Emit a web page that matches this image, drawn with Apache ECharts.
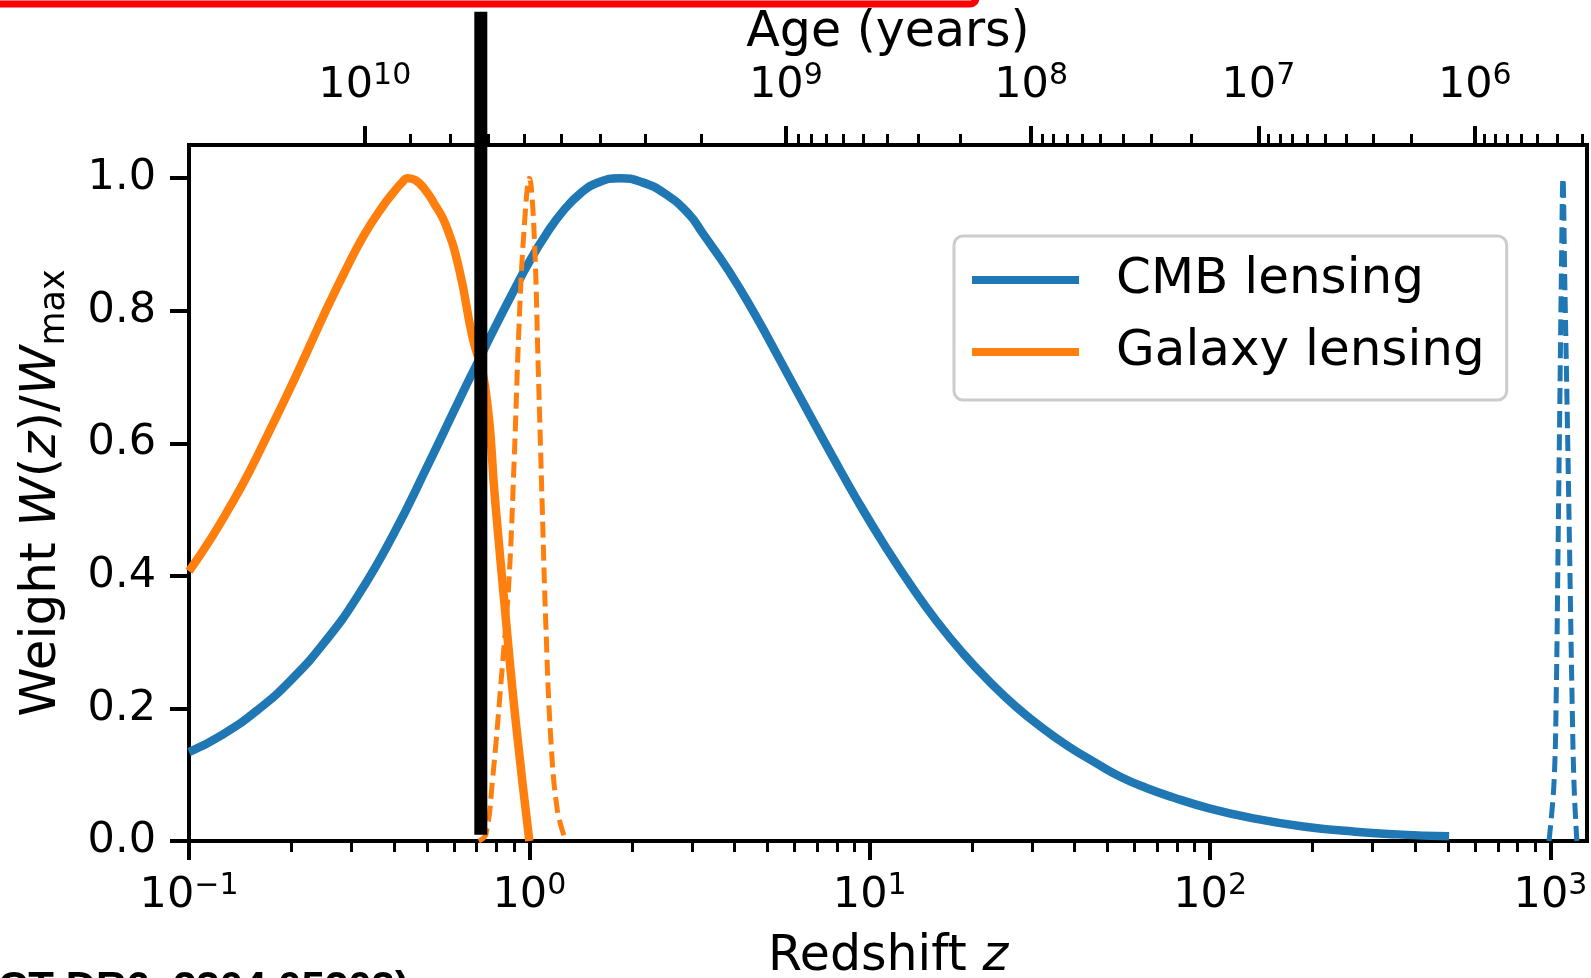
<!DOCTYPE html>
<html>
<head>
<meta charset="utf-8">
<title>Lensing kernels vs redshift</title>
<script src="https://cdn.jsdelivr.net/npm/echarts@6/dist/echarts.min.js"></script>
<style>
  html, body { margin: 0; padding: 0; background: #ffffff; }
  #chart { width: 1591px; height: 978px; }
</style>
</head>
<body>
<div id="chart"></div>
<script>
// ---- Normalised lensing kernels W(z)/W_max ----
const cmbZ = [0.1, 0.1259, 0.1585, 0.1995, 0.2512, 0.3162, 0.3981, 0.5012, 0.631, 0.7079, 0.7943, 0.8913, 1.0, 1.122, 1.259, 1.413, 1.585, 1.841, 2.138, 2.512, 2.951, 3.228, 3.855, 4.603, 5.483, 6.546, 7.816, 9.311, 11.12, 13.27, 15.81, 18.88, 22.54, 26.85, 32.06, 38.28, 45.71, 54.45, 65.01, 77.62, 100, 131.8, 187.5, 266.7, 354.8, 503.5];
const cmbW = [0.134, 0.161, 0.197, 0.243, 0.301, 0.373, 0.462, 0.565, 0.672, 0.724, 0.776, 0.826, 0.874, 0.916, 0.951, 0.977, 0.993, 1.0, 0.994, 0.976, 0.945, 0.917, 0.86, 0.794, 0.723, 0.65, 0.578, 0.509, 0.444, 0.384, 0.33, 0.282, 0.24, 0.203, 0.171, 0.143, 0.119, 0.097, 0.08, 0.066, 0.049, 0.035, 0.022, 0.014, 0.01, 0.007];

const galZ = [0.1, 0.1159, 0.1318, 0.15, 0.171, 0.1945, 0.2213, 0.2518, 0.2864, 0.3258, 0.3715, 0.3981, 0.4217, 0.4395, 0.4624, 0.4898, 0.5248, 0.5675, 0.6223, 0.6792, 0.7413, 0.7943, 0.8511, 0.912, 1.0];
const galW = [0.407, 0.456, 0.504, 0.556, 0.615, 0.674, 0.736, 0.799, 0.858, 0.913, 0.958, 0.978, 0.993, 1.0, 0.997, 0.985, 0.962, 0.93, 0.862, 0.762, 0.686, 0.51, 0.34, 0.18, 0.0];

// Source redshift distributions (dashed)
const galSrcZ = [0.71, 0.745, 0.778, 0.832, 0.871, 0.902, 0.933, 0.964, 1.0, 1.032, 1.062, 1.091, 1.117, 1.155, 1.208, 1.279];
const galSrcW = [0.0, 0.01, 0.088, 0.261, 0.393, 0.573, 0.781, 0.92, 1.0, 0.92, 0.712, 0.504, 0.331, 0.157, 0.047, 0.0];

const cmbSrcZ = [990, 1024, 1040, 1052, 1064, 1076, 1088, 1101, 1120, 1138, 1156, 1172, 1195];
const cmbSrcW = [0.0, 0.088, 0.227, 0.435, 0.642, 0.85, 1.0, 0.85, 0.642, 0.435, 0.227, 0.088, 0.0];

// Vertical divider: redshift, lower and upper weight
const dividerLine = [[0.72, 0.0094, 1.251]];

// ---- Axes ----
const zMin = 0.1, zMax = 1280;
const redshiftTicks = [0.1, 1, 10, 100, 1000];
const redshiftMinorTicks = [];
for (let k = -1; k <= 2; k++) for (let m = 2; m <= 9; m++) redshiftMinorTicks.push(+(m * Math.pow(10, k)).toPrecision(3));
const weightTicks = [0, 0.2, 0.4, 0.6, 0.8, 1.0];
const ageTicks = [1e10, 1e9, 1e8, 1e7, 1e6];
const ageTickLabels = ['10{s|10}', '10{s|9}', '10{s|8}', '10{s|7}', '10{s|6}'];

// Flat LCDM with radiation: cosmic age at redshift z (years)
const H0 = 67.7, OMEGA_M = 0.31, OMEGA_R = 9.1e-5, OMEGA_L = 1 - OMEGA_M - OMEGA_R;
const HUBBLE_TIME_YR = 977.8e9 / H0;
function ageAtZ(z) {
  const a = 1 / (1 + z);
  const n = 1000, h = a / n;
  const f = x => x / Math.sqrt(OMEGA_R + OMEGA_M * x + OMEGA_L * x * x * x * x);
  let s = f(0) + f(a);
  for (let i = 1; i < n; i++) s += (i % 2 ? 4 : 2) * f(i * h);
  return HUBBLE_TIME_YR * s * h / 3;
}
function zAtAge(age) {
  let lo = -3, hi = 5;
  for (let k = 0; k < 50; k++) {
    const mid = (lo + hi) / 2;
    if (ageAtZ(Math.pow(10, mid)) > age) lo = mid; else hi = mid;
  }
  return Math.pow(10, (lo + hi) / 2);
}
const inRange = z => z >= zMin && z <= zMax;
const ageMajorZ = ageTicks.map(zAtAge);
const ageMinorZ = [];
for (let k = 5; k <= 9; k++) for (let m = 2; m <= 9; m++) {
  const z = zAtAge(m * Math.pow(10, k));
  if (inRange(z)) ageMinorZ.push(z);
}

const FONT = "'DejaVu Sans', sans-serif";
const BLUE = '#1f77b4', ORANGE = '#ff7f0e';
const pairs = (xs, ys) => xs.map((x, i) => [x, ys[i]]);

const supStyle = { fontFamily: FONT, fontSize: 30, lineHeight: 24, verticalAlign: 'top', color: '#000' };

function logAxis(position, extra) {
  return Object.assign({
    type: 'log', logBase: 10, min: zMin, max: zMax, position: position, gridIndex: 0,
    axisLine: { show: true, onZero: false, lineStyle: { color: '#000', width: 4 } },
    splitLine: { show: false }, minorTick: { show: false }, minorSplitLine: { show: false },
    axisPointer: { show: false }, nameMoveOverlap: false
  }, extra);
}

const option = {
  animation: false,
  backgroundColor: '#ffffff',
  grid: {
    left: 189, top: 145, width: 1398, height: 696,
    show: true, borderColor: '#000', borderWidth: 4,
    containLabel: false, outerBoundsMode: 'none'
  },
  legend: {
    data: ['CMB lensing', 'Galaxy lensing'],
    orient: 'vertical', left: 954, top: 236,
    padding: [17, 22, 21, 18], itemGap: 18,
    itemWidth: 107, itemHeight: 8, icon: 'rect',
    backgroundColor: 'rgba(255,255,255,0.8)',
    borderColor: '#cccccc', borderWidth: 3, borderRadius: 9,
    selectedMode: false,
    textStyle: { fontFamily: FONT, fontSize: 50, lineHeight: 50, color: '#000', padding: [4, 0, 0, 32] }
  },
  xAxis: [
    // redshift, major ticks and labels
    logAxis('bottom', {
      axisTick: { show: true, length: 19, lineStyle: { color: '#000', width: 4 }, customValues: redshiftTicks },
      axisLabel: {
        show: true, customValues: redshiftTicks, margin: 30,
        fontFamily: FONT, fontSize: 43, lineHeight: 50, color: '#000',
        formatter: v => {
          const e = Math.round(Math.log10(v));
          return '10{s|' + (e < 0 ? '\u2212' + (-e) : String(e)) + '}';
        },
        rich: { s: supStyle }
      },
      name: 'Redshift {i|z}', nameLocation: 'middle', nameGap: 88,
      nameTextStyle: {
        fontFamily: FONT, fontSize: 49, lineHeight: 56, color: '#000',
        rich: { i: { fontFamily: FONT, fontSize: 49, lineHeight: 56, fontStyle: 'italic', color: '#000' } }
      }
    }),
    // redshift, minor ticks
    logAxis('bottom', {
      axisLine: { show: false, onZero: false },
      axisTick: { show: true, length: 11, lineStyle: { color: '#000', width: 3 }, customValues: redshiftMinorTicks },
      axisLabel: { show: false }
    }),
    // cosmic age, major ticks and labels
    logAxis('top', {
      axisTick: { show: true, length: 19, lineStyle: { color: '#000', width: 4 }, customValues: ageMajorZ },
      axisLabel: {
        show: true, customValues: ageMajorZ, margin: 34,
        fontFamily: FONT, fontSize: 43, lineHeight: 50, color: '#000',
        formatter: v => {
          let best = 0, bestD = Infinity;
          ageMajorZ.forEach((z, i) => {
            const d = Math.abs(Math.log10(z) - Math.log10(v));
            if (d < bestD) { bestD = d; best = i; }
          });
          return ageTickLabels[best];
        },
        rich: { s: supStyle }
      },
      name: 'Age (years)', nameLocation: 'middle', nameGap: 84,
      nameTextStyle: { fontFamily: FONT, fontSize: 49, lineHeight: 56, color: '#000' }
    }),
    // cosmic age, minor ticks
    logAxis('top', {
      axisLine: { show: false, onZero: false },
      axisTick: { show: true, length: 11, lineStyle: { color: '#000', width: 3 }, customValues: ageMinorZ },
      axisLabel: { show: false }
    })
  ],
  yAxis: {
    type: 'value', min: 0, max: 1.05, position: 'left',
    axisLine: { show: true, onZero: false, lineStyle: { color: '#000', width: 4 } },
    axisTick: { show: true, length: 19, lineStyle: { color: '#000', width: 4 }, customValues: weightTicks },
    axisLabel: {
      customValues: weightTicks, margin: 33,
      formatter: v => v.toFixed(1),
      fontFamily: FONT, fontSize: 43, color: '#000'
    },
    splitLine: { show: false },
    nameMoveOverlap: false,
    name: 'Weight {i|W}({i|z})/{i|W}{sub|max}',
    nameLocation: 'middle', nameRotate: 90, nameGap: 117,
    nameTextStyle: {
      fontFamily: FONT, fontSize: 50, lineHeight: 60, color: '#000',
      rich: {
        i: { fontFamily: FONT, fontSize: 50, lineHeight: 60, fontStyle: 'italic', color: '#000' },
        sub: { fontFamily: FONT, fontSize: 35, lineHeight: 30, verticalAlign: 'bottom', color: '#000' }
      }
    }
  },
  series: [
    {
      name: 'CMB lensing', type: 'line', xAxisIndex: 0, yAxisIndex: 0,
      data: pairs(cmbZ, cmbW), showSymbol: false, smooth: 0.5,
      lineStyle: { color: BLUE, width: 8.5 }, itemStyle: { color: BLUE }, z: 2
    },
    {
      name: 'Galaxy lensing', type: 'line', xAxisIndex: 0, yAxisIndex: 0,
      data: pairs(galZ, galW), showSymbol: false, smooth: 0.5,
      lineStyle: { color: ORANGE, width: 8.5 }, itemStyle: { color: ORANGE }, z: 3
    },
    {
      name: 'Galaxy source', type: 'line', xAxisIndex: 0, yAxisIndex: 0,
      data: pairs(galSrcZ, galSrcW), showSymbol: false, smooth: 0.4,
      lineStyle: { color: ORANGE, width: 5, type: [16, 7] }, itemStyle: { color: ORANGE }, z: 4
    },
    {
      name: 'CMB source', type: 'line', xAxisIndex: 0, yAxisIndex: 0,
      data: pairs(cmbSrcZ, cmbSrcW), showSymbol: false, smooth: 0.4,
      lineStyle: { color: BLUE, width: 5, type: [16, 7] }, itemStyle: { color: BLUE }, z: 4
    },
    {
      name: 'divider', type: 'custom', xAxisIndex: 0, yAxisIndex: 0,
      data: dividerLine, encode: { x: 0, y: [1, 2] }, clip: false, silent: true, z: 10,
      renderItem: (params, api) => {
        const top = api.coord([api.value(0), api.value(2)]);
        const bottom = api.coord([api.value(0), api.value(1)]);
        return {
          type: 'rect',
          shape: { x: top[0] - 6.5, y: top[1], width: 13, height: bottom[1] - top[1] },
          style: { fill: '#000000' }
        };
      }
    }
  ],
  graphic: [
    {
      type: 'rect', silent: true,
      shape: { x: -20, y: -40, width: 996, height: 44, r: 6 },
      style: { fill: 'none', stroke: '#ff0000', lineWidth: 7 }
    },
    {
      type: 'text', silent: true, x: -2, y: 989,
      style: { text: 'CT DR6, 2304.05203)', font: 'bold 42px "Liberation Sans", Arial, sans-serif', fill: '#000', align: 'left', verticalAlign: 'middle' }
    }
  ]
};

const chart = echarts.init(document.getElementById('chart'), null, { renderer: 'canvas' });
chart.setOption(option);
</script>
</body>
</html>
